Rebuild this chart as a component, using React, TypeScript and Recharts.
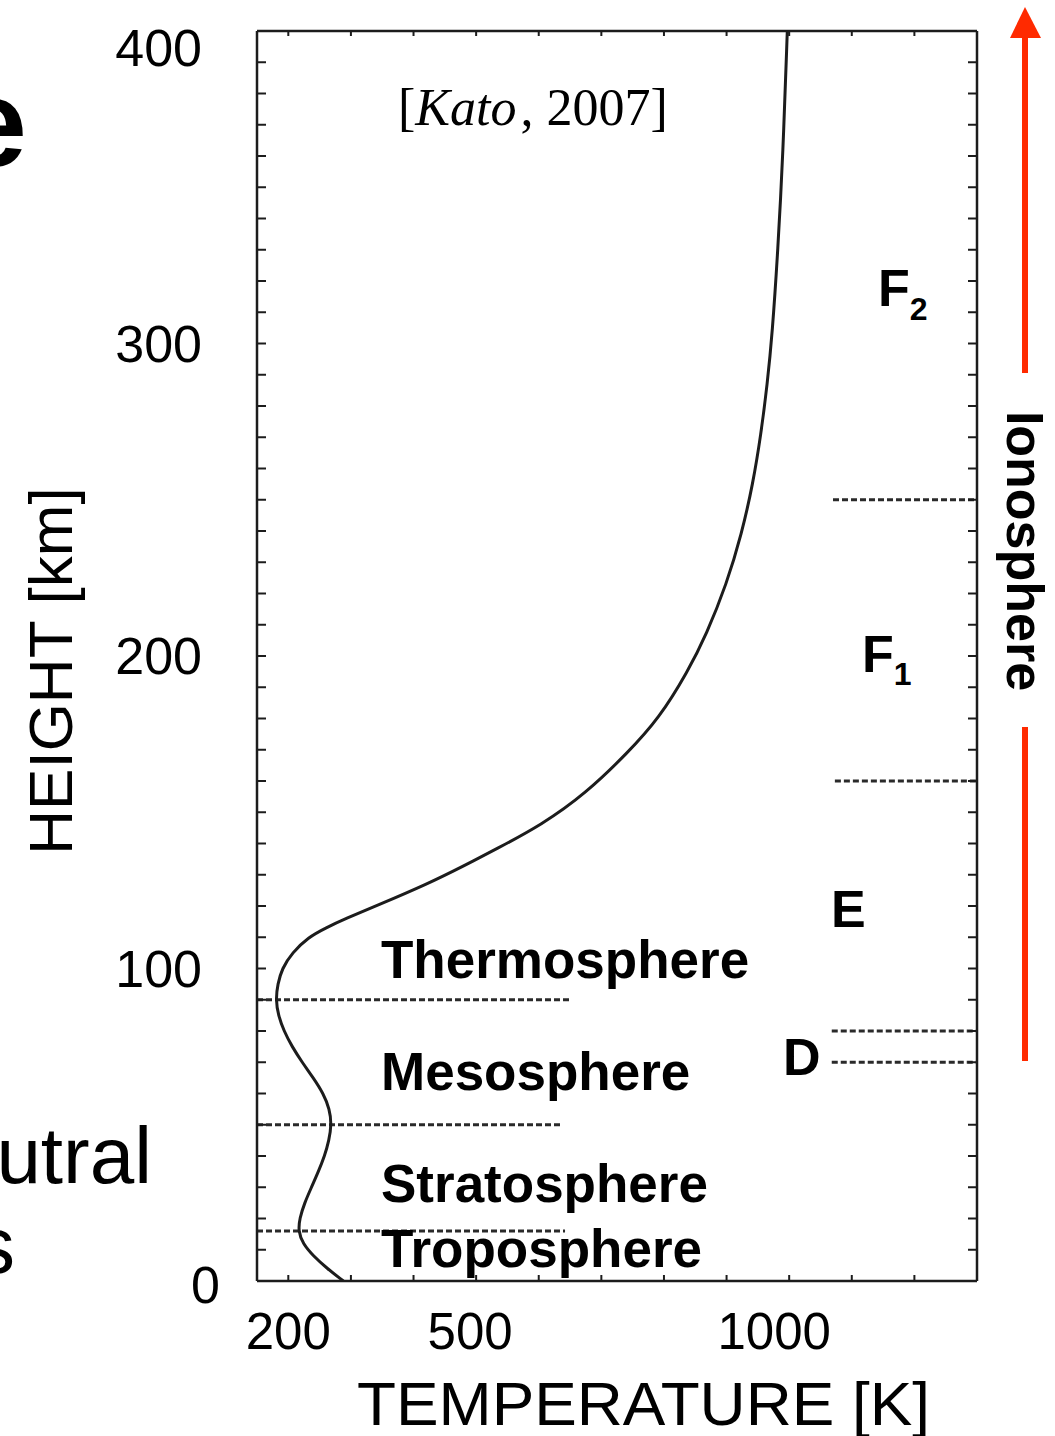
import { LineChart, Line, XAxis, YAxis, ReferenceLine } from "recharts";

// Neutral temperature profile: height [km] vs temperature [K]
const heights = [
  0, 4, 8, 12, 16, 20, 25, 30, 35, 40, 45, 50, 55, 60, 65, 70, 75, 80, 85, 90,
  95, 100, 105, 110, 113, 116, 120, 127, 133, 138, 146, 156, 169, 180, 195, 207,
  223, 239, 255, 271, 287, 303, 330, 360, 400,
];
const temps = [
  288, 262, 240, 223, 216, 218, 226, 237, 248, 258, 265, 269, 266, 256, 240, 222,
  206, 193, 184, 180, 183, 190, 206, 232, 260, 292, 340, 422, 482, 530, 605, 675,
  742, 792, 838, 868, 900, 924, 942, 955, 965, 973, 982, 990, 997,
];

// atmospheric layer boundaries (left) and ionospheric region boundaries (right)
const layerHeights = [16, 50, 90];
const layerEnds = [642, 637, 650];
const ionoHeights = [70, 80, 160, 250];
const ionoStart = [1068, 1068, 1073, 1070];

const T_MIN = 150;
const T_MAX = 1300;
const H_MAX = 400;

const yLabelTicks = [0, 100, 200, 300, 400];
const xLabelTicks = [200, 500, 1000];
const yMinorTicks = Array.from({ length: 41 }, (_, i) => i * 10);
const xMinorTicks = Array.from({ length: 11 }, (_, i) => 200 + i * 100);

const profile = heights.map((h, i) => ({ h, T: temps[i] }));

const SANS = "'Liberation Sans', Arial, sans-serif";
const SERIF = "'Liberation Serif', 'Times New Roman', serif";
const INK = "#1c1c1c";
const RED = "#ff2a00";

const yLabelShift: Record<number, { dx: number; dy: number }> = {
  400: { dx: 0, dy: 17 },
  0: { dx: 18, dy: 4 },
};
const xLabelShift: Record<number, number> = { 500: -6, 1000: -15 };

// every tick is drawn pointing into the plot; the label axes also print values
function LeftTick(props: any) {
  const { x, y, payload } = props;
  const v = payload.value;
  const s = yLabelShift[v] ?? { dx: 0, dy: 0 };
  return (
    <g>
      <line x1={x} y1={y} x2={x + 9} y2={y} stroke={INK} strokeWidth={2} />
      {yLabelTicks.includes(v) && (
        <text
          x={x - 55 + s.dx}
          y={y + s.dy}
          dy="0.355em"
          textAnchor="end"
          fontFamily={SANS}
          fontSize={52}
          fill="#000"
        >
          {v}
        </text>
      )}
    </g>
  );
}

function RightTick(props: any) {
  const { x, y } = props;
  return <line x1={x} y1={y} x2={x - 9} y2={y} stroke={INK} strokeWidth={2} />;
}

function BottomTick(props: any) {
  const { x, y, payload } = props;
  const v = payload.value;
  return (
    <g>
      <line x1={x} y1={y} x2={x} y2={y - 6} stroke={INK} strokeWidth={2} />
      {xLabelTicks.includes(v) && (
        <text
          x={x + (xLabelShift[v] ?? 0)}
          y={y + 32}
          dy="0.71em"
          textAnchor="middle"
          fontFamily={SANS}
          fontSize={51}
          fill="#000"
        >
          {v}
        </text>
      )}
    </g>
  );
}

function TopTick(props: any) {
  const { x, y } = props;
  return <line x1={x} y1={y} x2={x} y2={y + 5} stroke={INK} strokeWidth={2} />;
}

const frameLine = { stroke: INK, strokeWidth: 2.5 };
const boundaryStyle = { stroke: "#2a2a2a", strokeWidth: 3, strokeDasharray: "6 3" };

function Annotations() {
  const bold = { fontFamily: SANS, fontWeight: 700, fill: "#000" } as const;
  return (
    <svg
      width={1055}
      height={1436}
      style={{ position: "absolute", left: 0, top: 0, pointerEvents: "none" }}
    >
      {/* slide text running off the left edge */}
      <text x={27} y={166} textAnchor="end" fontSize={125} {...bold}>
        e
      </text>
      <text x={152} y={1183} textAnchor="end" fontSize={80} fontFamily={SANS}>
        Neutral
      </text>
      <text x={15} y={1273} textAnchor="end" fontSize={80} fontFamily={SANS}>
        s
      </text>

      <text x={398} y={125} fontFamily={SERIF} fontSize={52}>
        [<tspan fontStyle="italic">Kato</tspan>
        <tspan dx={4}>, 2007]</tspan>
      </text>

      <text
        transform="translate(72, 671) rotate(-90)"
        textAnchor="middle"
        fontFamily={SANS}
        fontSize={62}
      >
        HEIGHT [km]
      </text>
      <text
        x={357}
        y={1425}
        fontFamily={SANS}
        fontSize={62}
        textLength={573}
        lengthAdjust="spacingAndGlyphs"
      >
        TEMPERATURE [K]
      </text>

      <text x={381} y={978} fontSize={53} {...bold}>Thermosphere</text>
      <text x={381} y={1090} fontSize={53} {...bold}>Mesosphere</text>
      <text x={381} y={1202} fontSize={53} {...bold}>Stratosphere</text>
      <text x={381} y={1267} fontSize={53} {...bold}>Troposphere</text>

      <text x={878} y={306} fontSize={52} {...bold}>
        F<tspan dy={14} fontSize={32}>2</tspan>
      </text>
      <text x={862} y={672} fontSize={52} {...bold}>
        F<tspan dy={13} fontSize={32}>1</tspan>
      </text>
      <text x={831} y={927} fontSize={52} {...bold}>E</text>
      <text x={783} y={1075} fontSize={52} {...bold}>D</text>

      {/* extent of the ionosphere */}
      <line x1={1025} y1={37} x2={1025} y2={373} stroke={RED} strokeWidth={6} />
      <line x1={1025} y1={727} x2={1025} y2={1061} stroke={RED} strokeWidth={6} />
      <polygon points="1025,7 1010,38 1041,38" fill={RED} />
      <text
        transform="translate(1007, 551) rotate(90)"
        textAnchor="middle"
        fontSize={52}
        {...bold}
      >
        Ionosphere
      </text>
    </svg>
  );
}

export default function App() {
  return (
    <div
      style={{
        position: "absolute",
        left: 0,
        top: 0,
        width: 1055,
        height: 1436,
        background: "#fff",
        overflow: "hidden",
      }}
    >
      <LineChart
        width={1055}
        height={1436}
        data={profile}
        margin={{ top: 30, right: 77, bottom: 95, left: 157 }}
      >
        <XAxis
          xAxisId="x"
          type="number"
          dataKey="T"
          domain={[T_MIN, T_MAX]}
          allowDataOverflow
          ticks={xMinorTicks}
          interval={0}
          orientation="bottom"
          height={60}
          tickSize={0}
          tickMargin={0}
          tickLine={false}
          axisLine={frameLine}
          tick={BottomTick}
        />
        <XAxis
          xAxisId="xTop"
          type="number"
          dataKey="T"
          domain={[T_MIN, T_MAX]}
          allowDataOverflow
          ticks={xMinorTicks}
          interval={0}
          orientation="top"
          height={1}
          tickSize={0}
          tickMargin={0}
          tickLine={false}
          axisLine={frameLine}
          tick={TopTick}
        />
        <YAxis
          yAxisId="y"
          type="number"
          domain={[0, H_MAX]}
          allowDataOverflow
          ticks={yMinorTicks}
          interval={0}
          orientation="left"
          width={100}
          tickSize={0}
          tickMargin={0}
          tickLine={false}
          axisLine={frameLine}
          tick={LeftTick}
        />
        <YAxis
          yAxisId="yRight"
          type="number"
          domain={[0, H_MAX]}
          allowDataOverflow
          ticks={yMinorTicks}
          interval={0}
          orientation="right"
          width={1}
          tickSize={0}
          tickMargin={0}
          tickLine={false}
          axisLine={frameLine}
          tick={RightTick}
        />

        {layerHeights.map((h, i) => (
          <ReferenceLine
            key={`layer-${h}`}
            xAxisId="x"
            yAxisId="y"
            segment={[
              { x: T_MIN, y: h },
              { x: layerEnds[i], y: h },
            ]}
            {...boundaryStyle}
          />
        ))}
        {ionoHeights.map((h, i) => (
          <ReferenceLine
            key={`iono-${h}`}
            xAxisId="x"
            yAxisId="y"
            segment={[
              { x: ionoStart[i], y: h },
              { x: T_MAX, y: h },
            ]}
            {...boundaryStyle}
          />
        ))}

        {/* B-spline through the profile keeps the curve smooth between readings */}
        <Line
          xAxisId="x"
          yAxisId="y"
          dataKey="h"
          type="basis"
          stroke={INK}
          strokeWidth={3}
          dot={false}
          activeDot={false}
          isAnimationActive={false}
        />
      </LineChart>
      <Annotations />
    </div>
  );
}
